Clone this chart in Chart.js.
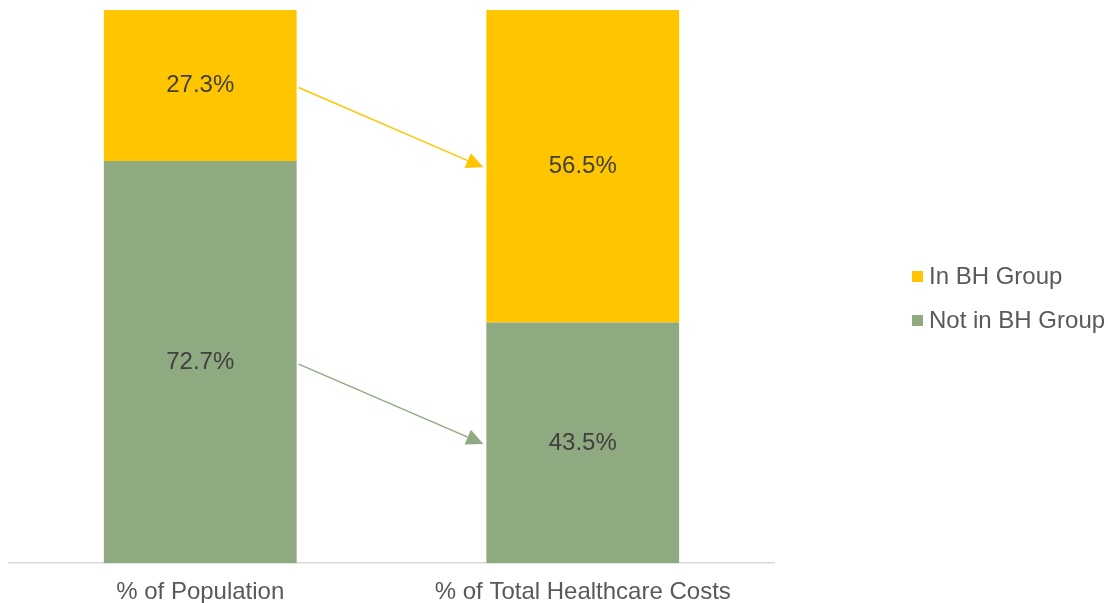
<!DOCTYPE html>
<html>
<head>
<meta charset="utf-8">
<script src="https://cdn.jsdelivr.net/npm/chart.js@4/dist/chart.umd.min.js"></script>
<style>
  html, body { margin: 0; padding: 0; background: #fff; }
  #wrap { position: relative; width: 1108px; height: 603px; }
  #legend { position: absolute; left: 912px; top: 254px; font-family: "Liberation Sans", Arial, sans-serif; font-size: 24px; color: #595959; }
  #legend div { display: flex; align-items: center; height: 44px; }
  #legend span.box { display: inline-block; width: 11px; height: 11px; margin-right: 6px; }
</style>
</head>
<body>
<div id="wrap">
  <canvas id="chart" width="1108" height="603"></canvas>
  <div id="legend"></div>
</div>
<script>
const categories = ["% of Population", "% of Total Healthcare Costs"];
const inGroup = [27.3, 56.5];
const notInGroup = [72.7, 43.5];
const yellow = "#FFC600";
const green = "#8FA980";

const legendElement = document.getElementById("legend");
[["In BH Group", yellow], ["Not in BH Group", green]].forEach(([label, color]) => {
  const row = document.createElement("div");
  row.innerHTML = `<span class="box" style="background:${color}"></span>${label}`;
  legendElement.appendChild(row);
});

// labels inside each segment
const valueLabels = {
  id: "valueLabels",
  afterDatasetsDraw(chart) {
    const { ctx } = chart;
    ctx.save();
    ctx.font = "24px 'Liberation Sans', Arial, sans-serif";
    ctx.fillStyle = "#404040";
    ctx.textAlign = "center";
    ctx.textBaseline = "middle";
    chart.data.datasets.forEach((dataset, i) => {
      chart.getDatasetMeta(i).data.forEach((bar, j) => {
        ctx.fillText(dataset.data[j].toFixed(1) + "%", bar.x, (bar.y + bar.base) / 2);
      });
    });
    ctx.restore();
  },
};

// arrows from segment middles of bar 1 to bar 2
const arrows = {
  id: "arrows",
  afterDatasetsDraw(chart) {
    const { ctx } = chart;
    chart.data.datasets.forEach((dataset, i) => {
      const bars = chart.getDatasetMeta(i).data;
      const x1 = bars[0].x + bars[0].width / 2 + 2;
      const y1 = (bars[0].y + bars[0].base) / 2 + 2;
      const x2 = bars[1].x - bars[1].width / 2 - 3;
      const y2 = (bars[1].y + bars[1].base) / 2 + 1;
      const angle = Math.atan2(y2 - y1, x2 - x1);
      const headLength = 17;
      const headWidth = 8;
      ctx.save();
      ctx.strokeStyle = dataset.backgroundColor;
      ctx.fillStyle = dataset.backgroundColor;
      ctx.lineWidth = 1.4;
      ctx.beginPath();
      ctx.moveTo(x1, y1);
      ctx.lineTo(x2 - headLength * Math.cos(angle), y2 - headLength * Math.sin(angle));
      ctx.stroke();
      ctx.translate(x2, y2);
      ctx.rotate(angle);
      ctx.beginPath();
      ctx.moveTo(0, 0);
      ctx.lineTo(-headLength, -headWidth);
      ctx.lineTo(-headLength, headWidth);
      ctx.closePath();
      ctx.fill();
      ctx.restore();
    });
  },
};

new Chart(document.getElementById("chart"), {
  type: "bar",
  data: {
    labels: categories,
    datasets: [
      { label: "Not in BH Group", data: notInGroup, backgroundColor: green },
      { label: "In BH Group", data: inGroup, backgroundColor: yellow },
    ],
  },
  options: {
    responsive: false,
    animation: false,
    devicePixelRatio: 1,
    layout: { padding: { left: 9, right: 334, top: 10, bottom: -19 } },
    datasets: { bar: { categoryPercentage: 1, barPercentage: 0.504 } },
    plugins: { legend: { display: false }, tooltip: { enabled: false } },
    scales: {
      x: {
        stacked: true,
        grid: { display: false, drawTicks: false },
        border: { display: true, color: "#D9D9D9", width: 1.5 },
        ticks: {
          color: "#595959",
          padding: 15,
          font: { family: "'Liberation Sans', Arial, sans-serif", size: 24 },
        },
      },
      y: {
        stacked: true,
        display: false,
        min: 0,
        max: 100,
      },
    },
  },
  plugins: [valueLabels, arrows],
});
</script>
</body>
</html>
